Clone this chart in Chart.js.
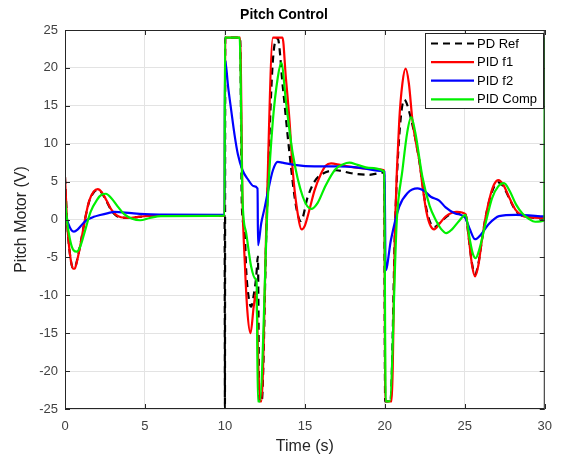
<!DOCTYPE html>
<html>
<head>
<meta charset="utf-8">
<script src="https://cdn.jsdelivr.net/npm/chart.js@4/dist/chart.umd.min.js"></script>
<style>
html,body{margin:0;padding:0;background:#fff;}
#wrap{width:562px;height:457px;position:relative;}
</style>
</head>
<body>
<div id="wrap"><canvas id="c" width="562" height="457"></canvas></div>
<script>
// ---- data ----
const titleText = "Pitch Control";
const xLabel = "Time (s)";
const yLabel = "Pitch Motor (V)";
const seriesNames = ["PD Ref", "PID f1", "PID f2", "PID Comp"];
const xTicks = [0, 5, 10, 15, 20, 25, 30];
const yTicks = [-25, -20, -15, -10, -5, 0, 5, 10, 15, 20, 25];

const refT = [0,0.1,0.2,0.35,0.5,0.6,0.75,0.95,1.25,1.5,1.8,2.05,2.3,2.6,2.9,3.2,3.5,4.0,4.6,5.5,9.98,10.0,10.02,10.95,11.06,11.23,11.33,11.5,11.64,11.8,11.96,12.06,12.15,12.3,12.6,13.0,13.3,13.62,14.04,14.45,14.75,15.18,15.6,16.0,16.95,17.9,19.03,19.95,20.02,20.35,20.65,20.9,21.21,21.6,22.15,22.5,22.77,23.1,23.5,24.0,24.5,25.05,25.25,25.45,25.64,25.85,26.05,26.3,26.6,26.85,27.1,27.4,27.8,28.2,28.6,29.0,30];
const refV = [5.6,1,-2.3,-5.2,-6.4,-6.4,-5.4,-3.4,0,2.3,3.6,3.9,3.5,2.4,1.2,0.5,0.3,0.2,0.35,0.5,0.5,-25,24,24,1.7,-1.4,-6.7,-10.5,-11.5,-10,-7.5,-4.9,-24,-24,-1,21,23.9,17.5,8.7,1.7,-0.2,3.0,5.0,5.9,6.5,6.1,5.9,6.2,-24,-24,0,11,15.8,13.6,7.8,2.5,0,-1.0,-0.3,0.6,0.9,0.6,-2.5,-5.8,-7.2,-5.8,-3,0.3,3.0,4.4,4.9,4.4,2.7,1.1,0.5,0.3,0.1];

const f1T = [0,0.1,0.2,0.35,0.5,0.6,0.75,0.95,1.25,1.5,1.8,2.05,2.3,2.6,2.9,3.2,3.5,4.0,4.6,5.5,9.98,10.02,10.95,11.1,11.25,11.4,11.6,11.8,11.95,12.1,12.2,12.28,12.6,13.0,13.6,13.8,14.04,14.24,14.5,14.8,15.0,15.28,15.6,16.0,16.3,16.64,17.2,18,19,19.96,20.03,20.42,20.65,20.9,21.1,21.3,21.5,21.73,22.0,22.15,22.35,22.6,22.87,23.08,23.4,23.8,24.2,24.5,25.05,25.25,25.45,25.64,25.85,26.05,26.3,26.6,26.85,27.1,27.4,27.8,28.2,28.6,29.0,30];
const f1V = [5.6,1,-2.3,-5.2,-6.5,-6.5,-5.5,-3.5,0,2.4,3.7,4.0,3.6,2.5,1.3,0.6,0.3,0.2,0.35,0.5,0.5,24,24,2.6,-6,-12,-15,-11.5,-9.5,-20,-24,-24,0,24,24,19,13,6.5,1.5,-1.3,-0.8,1.25,3.8,6.0,7.1,7.4,7.2,6.9,6.7,6.5,-24,-24,0,13,18,19.9,18,13,9.5,7.8,4.5,1.0,-0.9,-1.3,-0.6,0.4,0.9,1.0,0.7,-2.5,-6,-7.5,-6,-3,0.3,3.2,4.7,5.2,4.6,2.8,1.2,0.5,0.3,0.2];

const f2T = [0,0.2,0.4,0.56,0.8,1.1,1.35,1.8,2.2,2.7,3.1,3.6,4.3,5,6,9.98,10.0,10.2,10.4,10.6,10.81,11.1,11.44,11.8,12.04,12.07,12.27,12.48,12.7,13.0,13.3,13.6,14.35,15.6,17.15,18.5,19.86,19.98,20.05,20.38,20.9,21.42,22.04,22.5,22.87,23.4,23.8,24.4,25.0,25.3,25.64,26.0,26.5,27.14,28.18,30];
const f2V = [0.9,-0.5,-1.4,-1.6,-1.3,-0.6,-0.1,0.35,0.6,0.85,1.0,0.95,0.8,0.7,0.65,0.6,21.2,17.5,14.3,11.2,8.6,6.5,5.3,4.4,4.1,-3.4,-0.5,1.5,3.8,6.5,7.6,7.5,7.2,7.0,7.0,6.8,6.4,6.3,-6.7,-2.7,1.7,3.5,4.1,3.7,3.0,2.5,1.6,0.8,0.3,-1.2,-2.6,-2.0,-0.6,0.45,0.6,0.4];

const compT = [0,0.15,0.35,0.55,0.73,0.95,1.25,1.6,2.0,2.3,2.56,2.9,3.3,3.7,4.2,4.7,5.3,6,9.98,10.0,10.92,11.1,11.33,11.64,11.9,11.98,12.06,12.17,12.68,13.0,13.31,13.52,13.83,14.24,14.87,15.4,15.8,16.3,16.9,17.4,17.78,18.3,19,19.96,20.05,20.3,20.75,21.1,21.4,21.65,21.9,22.35,22.8,23.19,23.5,23.85,24.2,24.6,25.05,25.3,25.5,25.68,25.9,26.3,26.7,27.1,27.45,27.8,28.2,28.6,29.0,29.4,29.98,30];
const compV = [2.6,-0.5,-3,-4.1,-4.25,-3.6,-1.5,1.0,2.6,3.3,3.4,2.8,1.7,0.7,0.1,-0.1,0.2,0.45,0.5,24,24,2.6,-1.8,-6.2,-7.8,-8.2,-24,-24,2.6,13.1,18.8,20.7,15.3,8.7,3.0,1.4,2.2,4.5,6.6,7.3,7.5,7.2,6.8,6.3,-24,-24,0,6.5,11.5,13.5,11.5,5.6,1.8,-0.1,-1.2,-1.8,-1.3,-0.3,0.6,-2.5,-4.5,-5.1,-4,-0.5,2.8,4.4,4.8,3.8,2.0,0.8,0.1,-0.3,-0.1,24];

// ---- build ----
function pts(T, V) { return T.map((t, i) => ({ x: t, y: V[i] })); }
const styles = [
  { color: '#000000', dash: [7, 5], order: 4 },
  { color: '#ff0000', dash: [], order: 3 },
  { color: '#0000ff', dash: [], order: 2 },
  { color: '#00f000', dash: [], order: 1 }
];
const seriesData = [pts(refT, refV), pts(f1T, f1V), pts(f2T, f2V), pts(compT, compV)];

const FONT = '"Liberation Sans", Arial, Helvetica, sans-serif';
const AXIS = '#262626';

const overlay = {
  id: 'overlay',
  afterDatasetsDraw(chart) {
    const ctx = chart.ctx, a = chart.chartArea;
    const xs = chart.scales.x, ys = chart.scales.y;
    ctx.save();
    // box
    ctx.strokeStyle = AXIS; ctx.lineWidth = 1; ctx.setLineDash([]);
    ctx.strokeRect(a.left + 0.5, a.top + 0.5, a.right - a.left - 1, a.bottom - a.top - 1);
    // inside tick marks
    ctx.beginPath();
    xTicks.forEach(v => {
      const p = Math.round(xs.getPixelForValue(v)) + 0.5;
      ctx.moveTo(p, a.bottom); ctx.lineTo(p, a.bottom - 5);
      ctx.moveTo(p, a.top); ctx.lineTo(p, a.top + 5);
    });
    yTicks.forEach(v => {
      const p = Math.round(ys.getPixelForValue(v)) + 0.5;
      ctx.moveTo(a.left, p); ctx.lineTo(a.left + 5, p);
      ctx.moveTo(a.right, p); ctx.lineTo(a.right - 5, p);
    });
    ctx.stroke();
    // title
    ctx.fillStyle = '#000';
    ctx.font = 'bold 14px ' + FONT;
    ctx.textAlign = 'center'; ctx.textBaseline = 'middle';
    ctx.fillText(titleText, 284, 15);
    // axis labels
    ctx.fillStyle = AXIS;
    ctx.font = '16px ' + FONT;
    ctx.fillText(xLabel, (a.left + a.right) / 2, 447);
    ctx.save();
    ctx.translate(22, (a.top + a.bottom) / 2);
    ctx.rotate(-Math.PI / 2);
    ctx.fillText(yLabel, 0, 0);
    ctx.restore();
    // legend
    const lx = 425, ly = 33, lw = 118, lh = 75;
    ctx.fillStyle = '#fff';
    ctx.fillRect(lx, ly, lw, lh);
    ctx.strokeStyle = AXIS;
    ctx.strokeRect(lx + 0.5, ly + 0.5, lw, lh);
    ctx.font = '13px ' + FONT;
    ctx.textAlign = 'left'; ctx.textBaseline = 'middle';
    seriesNames.forEach((name, i) => {
      const y = ly + 10.5 + i * 18.6;
      ctx.beginPath();
      ctx.strokeStyle = styles[i].color;
      ctx.lineWidth = 2.2;
      ctx.setLineDash(styles[i].dash);
      ctx.moveTo(431, y); ctx.lineTo(474, y);
      ctx.stroke();
      ctx.setLineDash([]);
      ctx.fillStyle = '#000';
      ctx.fillText(name, 477, y + 0.5);
    });
    ctx.restore();
  }
};

new Chart(document.getElementById('c'), {
  type: 'line',
  data: {
    datasets: seriesNames.map((name, i) => ({
      label: name,
      data: seriesData[i],
      borderColor: styles[i].color,
      borderDash: styles[i].dash,
      borderWidth: 2.2,
      pointRadius: 0,
      fill: false,
      tension: 0,
      cubicInterpolationMode: 'monotone',
      order: styles[i].order
    }))
  },
  options: {
    responsive: false,
    animation: false,
    layout: { padding: { top: 30, right: 16, left: 0, bottom: 0 } },
    plugins: { legend: { display: false }, tooltip: { enabled: false }, title: { display: false } },
    scales: {
      x: {
        type: 'linear', min: 0, max: 30,
        afterFit(s) { s.height = 48; },
        afterBuildTicks(s) { s.ticks = xTicks.map(v => ({ value: v })); },
        grid: { color: '#e3e3e3', lineWidth: 1, drawTicks: false },
        border: { display: false },
        ticks: { padding: 10, color: '#404040', font: { family: FONT, size: 13 }, maxRotation: 0 }
      },
      y: {
        type: 'linear', min: -25, max: 25,
        afterFit(s) { s.width = 65; },
        afterBuildTicks(s) { s.ticks = yTicks.map(v => ({ value: v })); },
        grid: { color: '#e3e3e3', lineWidth: 1, drawTicks: false },
        border: { display: false },
        ticks: { padding: 7, color: '#404040', font: { family: FONT, size: 13 } }
      }
    }
  },
  plugins: [overlay]
});
</script>
</body>
</html>
